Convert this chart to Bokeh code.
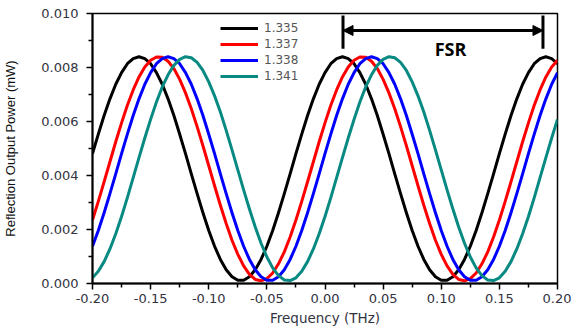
from bokeh.plotting import figure
from bokeh.models import (Range1d, FixedTicker, PrintfTickFormatter, Legend,
                          LegendItem, Arrow, NormalHead, Label)
from bokeh.embed import file_html
from bokeh.resources import INLINE

# ---------------- data ----------------
freq = [-0.200, -0.195, -0.190, -0.185, -0.180, -0.175, -0.170, -0.165, -0.160, -0.155,
        -0.150, -0.145, -0.140, -0.135, -0.130, -0.125, -0.120, -0.115, -0.110, -0.105,
        -0.100, -0.095, -0.090, -0.085, -0.080, -0.075, -0.070, -0.065, -0.060, -0.055,
        -0.050, -0.045, -0.040, -0.035, -0.030, -0.025, -0.020, -0.015, -0.010, -0.005,
        0.000, 0.005, 0.010, 0.015, 0.020, 0.025, 0.030, 0.035, 0.040, 0.045,
        0.050, 0.055, 0.060, 0.065, 0.070, 0.075, 0.080, 0.085, 0.090, 0.095,
        0.100, 0.105, 0.110, 0.115, 0.120, 0.125, 0.130, 0.135, 0.140, 0.145,
        0.150, 0.155, 0.160, 0.165, 0.170, 0.175, 0.180, 0.185, 0.190, 0.195,
        0.200]

p_1335 = [0.00481, 0.00553, 0.00622, 0.00684, 0.00738, 0.00781, 0.00814, 0.00833, 0.00840, 0.00833,
          0.00814, 0.00781, 0.00738, 0.00684, 0.00622, 0.00553, 0.00481, 0.00406, 0.00333, 0.00262,
          0.00196, 0.00138, 0.00089, 0.00051, 0.00025, 0.00012, 0.00012, 0.00025, 0.00051, 0.00089,
          0.00138, 0.00196, 0.00262, 0.00333, 0.00406,
          0.00481, 0.00553, 0.00622, 0.00684, 0.00738, 0.00781, 0.00814, 0.00833, 0.00840, 0.00833,
          0.00814, 0.00781, 0.00738, 0.00684, 0.00622, 0.00553, 0.00481, 0.00406, 0.00333, 0.00262,
          0.00196, 0.00138, 0.00089, 0.00051, 0.00025, 0.00012, 0.00012, 0.00025, 0.00051, 0.00089,
          0.00138, 0.00196, 0.00262, 0.00333, 0.00406,
          0.00481, 0.00553, 0.00622, 0.00684, 0.00738, 0.00781, 0.00814, 0.00833, 0.00840, 0.00833,
          0.00814]
p_1337 = [0.00235, 0.00304, 0.00377, 0.00451, 0.00525, 0.00595, 0.00660, 0.00717, 0.00765, 0.00802,
          0.00827, 0.00839, 0.00838, 0.00823, 0.00796, 0.00756, 0.00706, 0.00647, 0.00581, 0.00510,
          0.00436, 0.00362, 0.00290, 0.00222, 0.00160, 0.00108, 0.00065, 0.00034, 0.00015, 0.00010,
          0.00018, 0.00039, 0.00073, 0.00117, 0.00172,
          0.00235, 0.00304, 0.00377, 0.00451, 0.00525, 0.00595, 0.00660, 0.00717, 0.00765, 0.00802,
          0.00827, 0.00839, 0.00838, 0.00823, 0.00796, 0.00756, 0.00706, 0.00647, 0.00581, 0.00510,
          0.00436, 0.00362, 0.00290, 0.00222, 0.00160, 0.00108, 0.00065, 0.00034, 0.00015, 0.00010,
          0.00018, 0.00039, 0.00073, 0.00117, 0.00172,
          0.00235, 0.00304, 0.00377, 0.00451, 0.00525, 0.00595, 0.00660, 0.00717, 0.00765, 0.00802,
          0.00827]
p_1338 = [0.00138, 0.00196, 0.00262, 0.00333, 0.00406, 0.00481, 0.00553, 0.00622, 0.00684, 0.00738,
          0.00781, 0.00814, 0.00833, 0.00840, 0.00833, 0.00814, 0.00781, 0.00738, 0.00684, 0.00622,
          0.00553, 0.00481, 0.00406, 0.00333, 0.00262, 0.00196, 0.00138, 0.00089, 0.00051, 0.00025,
          0.00012, 0.00012, 0.00025, 0.00051, 0.00089,
          0.00138, 0.00196, 0.00262, 0.00333, 0.00406, 0.00481, 0.00553, 0.00622, 0.00684, 0.00738,
          0.00781, 0.00814, 0.00833, 0.00840, 0.00833, 0.00814, 0.00781, 0.00738, 0.00684, 0.00622,
          0.00553, 0.00481, 0.00406, 0.00333, 0.00262, 0.00196, 0.00138, 0.00089, 0.00051, 0.00025,
          0.00012, 0.00012, 0.00025, 0.00051, 0.00089,
          0.00138, 0.00196, 0.00262, 0.00333, 0.00406, 0.00481, 0.00553, 0.00622, 0.00684, 0.00738,
          0.00781]
p_1341 = [0.00021, 0.00045, 0.00081, 0.00128, 0.00184, 0.00248, 0.00318, 0.00392, 0.00466, 0.00539,
          0.00608, 0.00672, 0.00728, 0.00773, 0.00808, 0.00830, 0.00840, 0.00836, 0.00819, 0.00789,
          0.00747, 0.00695, 0.00635, 0.00567, 0.00495, 0.00421, 0.00347, 0.00276, 0.00209, 0.00149,
          0.00098, 0.00058, 0.00029, 0.00013, 0.00011,
          0.00021, 0.00045, 0.00081, 0.00128, 0.00184, 0.00248, 0.00318, 0.00392, 0.00466, 0.00539,
          0.00608, 0.00672, 0.00728, 0.00773, 0.00808, 0.00830, 0.00840, 0.00836, 0.00819, 0.00789,
          0.00747, 0.00695, 0.00635, 0.00567, 0.00495, 0.00421, 0.00347, 0.00276, 0.00209, 0.00149,
          0.00098, 0.00058, 0.00029, 0.00013, 0.00011,
          0.00021, 0.00045, 0.00081, 0.00128, 0.00184, 0.00248, 0.00318, 0.00392, 0.00466, 0.00539,
          0.00608]

series_labels = ["1.335", "1.337", "1.338", "1.341"]
series_values = [p_1335, p_1337, p_1338, p_1341]
series_colors = ["#000000", "#ff0000", "#0000ff", "#088a82"]

x_ticks = [-0.20, -0.15, -0.10, -0.05, 0.00, 0.05, 0.10, 0.15, 0.20]
x_minor = [-0.175, -0.125, -0.075, -0.025, 0.025, 0.075, 0.125, 0.175]
y_ticks = [0.000, 0.002, 0.004, 0.006, 0.008, 0.010]
y_minor = [0.001, 0.003, 0.005, 0.007, 0.009]

# FSR annotation (positions of the two marked black peaks)
fsr_marks = [0.0155, 0.1875]
fsr_arrow_y = 0.00937
fsr_bar_top = 0.00993
fsr_bar_bottom = 0.00869
fsr_text_x = 0.108
fsr_text_y = 0.00868

# ---------------- figure ----------------
p = figure(width=571, height=330, output_backend="svg", toolbar_location=None,
           x_range=Range1d(-0.2, 0.2), y_range=Range1d(0.0, 0.010),
           min_border_left=92, min_border_right=14, min_border_top=13,
           min_border_bottom=47)
p.background_fill_color = "white"
p.border_fill_color = "white"
p.outline_line_color = "black"
p.outline_line_width = 1.5
p.xgrid.visible = False
p.ygrid.visible = False

renderers = []
for vals, col in zip(series_values, series_colors):
    r = p.line(freq, vals, line_width=3, line_color=col, line_join="round")
    renderers.append(r)

legend = Legend(items=[LegendItem(label=lab, renderers=[r])
                       for lab, r in zip(series_labels, renderers)],
                location=(128, 199))
legend.glyph_width = 38
legend.glyph_height = 16
legend.label_height = 16
legend.spacing = 0
legend.padding = 0
legend.margin = 0
legend.label_standoff = 6
legend.background_fill_alpha = 0
legend.border_line_alpha = 0
legend.label_text_font = "DejaVu Sans"
legend.label_text_font_size = "12px"
legend.label_text_color = "#555555"
p.add_layout(legend)

# FSR marker
p.segment(x0=fsr_marks, y0=[fsr_bar_bottom] * 2, x1=fsr_marks, y1=[fsr_bar_top] * 2,
          line_width=3, line_color="black")
p.add_layout(Arrow(x_start=fsr_marks[0], y_start=fsr_arrow_y,
                   x_end=fsr_marks[1], y_end=fsr_arrow_y,
                   line_width=3, line_color="black",
                   start=NormalHead(size=10, fill_color="black", line_color="black", line_width=1),
                   end=NormalHead(size=10, fill_color="black", line_color="black", line_width=1)))
p.add_layout(Label(x=fsr_text_x, y=fsr_text_y, text="FSR", text_font="Open Sans",
                   text_font_style="bold", text_font_size="18px",
                   text_align="center", text_baseline="middle", text_color="black"))

# axes
xa = p.xaxis[0]
xa.ticker = FixedTicker(ticks=x_ticks, minor_ticks=x_minor)
xa.formatter = PrintfTickFormatter(format="%.2f")
xa.axis_label = "Frequency (THz)"
ya = p.yaxis[0]
ya.ticker = FixedTicker(ticks=y_ticks, minor_ticks=y_minor)
ya.formatter = PrintfTickFormatter(format="%.3f")
ya.axis_label = "Reflection Output Power (mW)"

for ax in (xa, ya):
    ax.axis_line_color = "black"
    ax.axis_line_width = 2
    ax.major_tick_line_color = "black"
    ax.minor_tick_line_color = "black"
    ax.major_tick_line_width = 1.5
    ax.minor_tick_line_width = 1.5
    ax.major_tick_in = 0
    ax.major_tick_out = 6
    ax.minor_tick_in = 0
    ax.minor_tick_out = 4
    ax.major_label_text_font = "DejaVu Sans"
    ax.major_label_text_font_size = "13px"
    ax.major_label_text_color = "#333340"
    ax.axis_label_text_font_style = "normal"

xa.major_label_standoff = 4
xa.axis_label_standoff = 4
xa.axis_label_text_font = "DejaVu Sans"
xa.axis_label_text_font_size = "13.5px"
xa.axis_label_text_color = "#333340"

ya.major_label_standoff = 8
ya.axis_label_standoff = 20
ya.axis_label_text_font = "Liberation Sans"
ya.axis_label_text_font_size = "13px"
ya.axis_label_text_color = "#111111"

open("out.html", "w").write(file_html(p, INLINE))
